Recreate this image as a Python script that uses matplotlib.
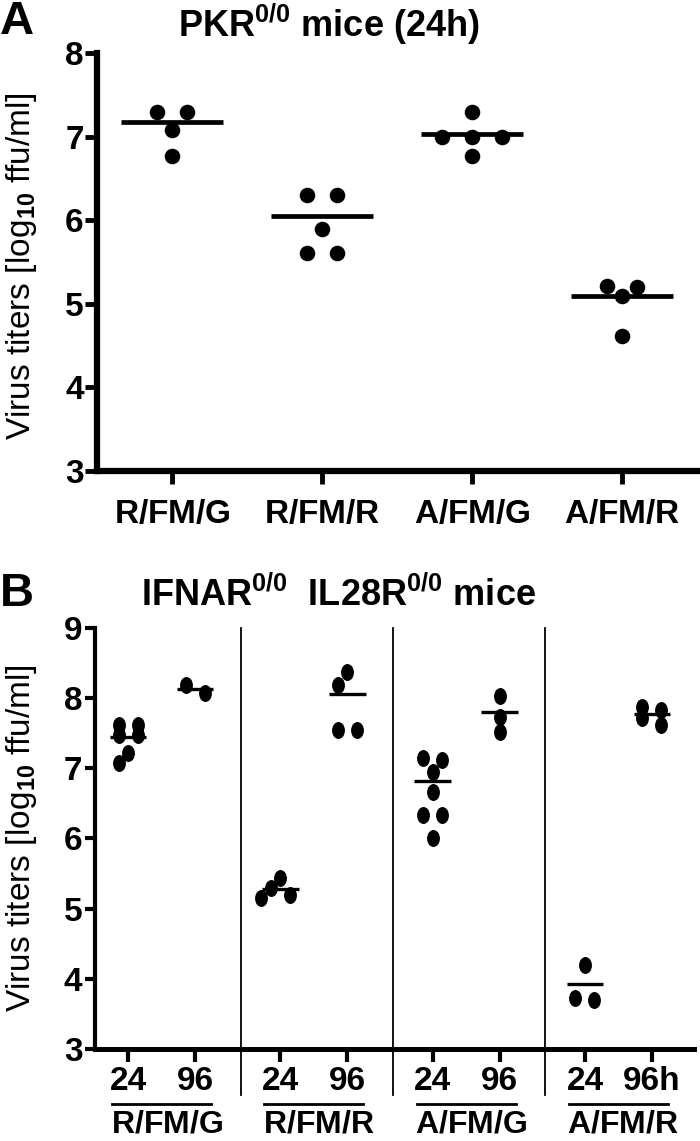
"""Virus titers in knockout mice: PKR 0/0 (A) and IFNAR/IL28R 0/0 (B) scatter panels."""

import matplotlib

matplotlib.use("Agg")
import matplotlib.pyplot as plt
import numpy as np
from matplotlib.markers import MarkerStyle
from matplotlib.path import Path
from matplotlib.transforms import Affine2D

plt.rcParams["font.family"] = ["Liberation Sans", "DejaVu Sans"]
plt.rcParams["font.weight"] = "bold"
plt.rcParams["mathtext.fontset"] = "custom"
plt.rcParams["mathtext.rm"] = "Liberation Sans"
plt.rcParams["mathtext.bf"] = "Liberation Sans:bold"
plt.rcParams["mathtext.it"] = "Liberation Sans:italic"

# ---- data: panel A (PKR 0/0 mice, 24 h) ----
A_LABELS = [
    r"$\mathbf{R/FM/G}$",
    r"$\mathbf{R/FM/}\mathrm{R}$",
    r"$\mathrm{A/}\mathbf{FM/G}$",
    r"$\mathrm{A/}\mathbf{FM/}\mathrm{R}$",
]
A_RFMG = [7.30, 7.30, 7.08, 6.77]
A_RFMR = [6.30, 6.30, 5.90, 5.61, 5.61]
A_AFMG = [7.30, 7.00, 7.00, 7.00, 6.77]
A_AFMR = [5.21, 5.20, 5.09, 4.62]
A_CENTER = [7.18, 6.05, 7.03, 5.09]

# ---- data: panel B (IFNAR 0/0 IL28R 0/0 mice, 24 h and 96 h) ----
B_GROUPS = [
    r"$\mathbf{R/FM/G}$",
    r"$\mathbf{R/FM/}\mathrm{R}$",
    r"$\mathrm{A/}\mathbf{FM/G}$",
    r"$\mathrm{A/}\mathbf{FM/}\mathrm{R}$",
]
B_TIME_LABELS = ["24", "96", "24", "96", "24", "96", "24", "96h"]
B_RFMG_24 = [7.62, 7.62, 7.47, 7.47, 7.21, 7.08]
B_RFMG_96 = [8.18, 8.07]
B_RFMR_24 = [5.43, 5.29, 5.20, 5.15]
B_RFMR_96 = [8.37, 8.18, 7.54, 7.54]
B_AFMG_24 = [7.14, 7.11, 6.95, 6.66, 6.33, 6.33, 6.00]
B_AFMG_96 = [8.03, 7.73, 7.52]
B_AFMR_24 = [4.19, 3.72, 3.70]
B_AFMR_96 = [7.87, 7.83, 7.71, 7.61]
B_CENTER = [7.45, 8.13, 5.28, 8.06, 6.81, 7.80, 3.92, 7.77]

FIG_W, FIG_H, DPI = 7.0, 11.41, 100
YLABEL = r"Virus titers [log$_{10}$ ffu/ml]"
B_TIME_OFFSET = 0.44
TEXT_SIZE = 24
GROUP_SIZE = 23
TITLE_SIZE = 26
PANEL_SIZE = 34


def spread(values, px_x, px_y, dot_w, dot_h, spacing, overlap=0.85):
    """Scatter-dot layout: close values share a row, rows are centred."""
    values = np.asarray(values, dtype=float)
    order = np.argsort(-values, kind="stable")
    rows = []
    for idx in order:
        if rows and (values[rows[-1][0]] - values[idx]) * px_y <= dot_h * 0.5:
            rows[-1].append(idx)
        else:
            rows.append([idx])
    offsets = np.zeros(len(values))
    placed = []
    half = spacing / 2
    shifts = [0.0]
    for k in range(1, 6):
        shifts += [-k * half, k * half]
    for row in rows:
        base = (np.arange(len(row)) - (len(row) - 1) / 2) * spacing
        chosen = 0.0
        if len(row) == 1:
            y = values[row[0]] * px_y
            for s in shifts:
                if all(
                    ((s - px) / dot_w) ** 2 + ((y - py) / dot_h) ** 2 >= overlap**2
                    for px, py in placed
                ):
                    chosen = s
                    break
        for i, idx in zip(base + chosen, row):
            offsets[idx] = i
            placed.append((i, values[idx] * px_y))
    return offsets / px_x


def px_scale(ax):
    pos = ax.get_position()
    x0, x1 = ax.get_xlim()
    y0, y1 = ax.get_ylim()
    return (
        pos.width * FIG_W * DPI / (x1 - x0),
        pos.height * FIG_H * DPI / (y1 - y0),
    )


fig = plt.figure(figsize=(FIG_W, FIG_H), dpi=DPI)

# ================= panel A =================
axA = fig.add_axes([97 / 700, 1 - 471 / 1141, 600 / 700, (471 - 53.3) / 1141])
axA.set_xlim(-0.5, 3.5)
axA.set_ylim(3, 8)
px_x, px_y = px_scale(axA)
dotA = MarkerStyle("o")
for i, vals in enumerate([A_RFMG, A_RFMR, A_AFMG, A_AFMR]):
    dx = spread(vals, px_x, px_y, 15.5, 15.5, 30)
    axA.plot(
        i + dx, vals, linestyle="none", marker=dotA, markersize=11.2,
        color="black", markeredgewidth=0, clip_on=False, zorder=3,
    )
    axA.hlines(A_CENTER[i], i - 0.34, i + 0.34, color="black", linewidth=3.4, zorder=4)

axA.spines["top"].set_visible(False)
axA.spines["right"].set_visible(False)
for side in ("left", "bottom"):
    axA.spines[side].set_linewidth(4.5)
    axA.spines[side].set_capstyle("projecting")
axA.set_yticks([3, 4, 5, 6, 7, 8])
axA.set_xticks(range(4))
axA.set_xticklabels(A_LABELS)
axA.tick_params(axis="y", length=8.6, width=3.5, labelsize=TEXT_SIZE, pad=1)
axA.tick_params(axis="x", length=9.5, width=3.5, labelsize=TEXT_SIZE, pad=11)
axA.set_ylabel(YLABEL, fontsize=TEXT_SIZE, fontweight="normal", va="center")
axA.yaxis.set_label_coords(-0.125, 0.49)
fig.text(329 / 700, 1 - 24 / 1141, r"PKR$^{\mathbf{0/0}}$ mice (24h)",
         ha="center", va="center", fontsize=TITLE_SIZE, fontweight="bold")
fig.text(0, 1 - 22 / 1141, "A", ha="left", va="center",
         fontsize=PANEL_SIZE, fontweight="bold")

# ================= panel B =================
axB = fig.add_axes([95 / 700, 1 - 1049 / 1141, 599 / 700, (1049 - 627.7) / 1141])
axB.set_xlim(-0.217, 3.716)
axB.set_ylim(3, 9)
px_x, px_y = px_scale(axB)
ellipse = Path.unit_circle().transformed(Affine2D().scale(0.76, 1.0))
dotB = MarkerStyle(ellipse)
b_series = [
    B_RFMG_24, B_RFMG_96, B_RFMR_24, B_RFMR_96,
    B_AFMG_24, B_AFMG_96, B_AFMR_24, B_AFMR_96,
]
b_pos = []
for k, vals in enumerate(b_series):
    x = k // 2 + (k % 2) * B_TIME_OFFSET
    b_pos.append(x)
    dx = spread(vals, px_x, px_y, 13, 17, 19)
    axB.plot(
        x + dx, vals, linestyle="none", marker=dotB, markersize=12.2,
        color="black", markeredgewidth=0, clip_on=False, zorder=3,
    )
    axB.hlines(B_CENTER[k], x - 0.12, x + 0.12, color="black", linewidth=2.4, zorder=4)

for g in range(1, 4):
    sep = g - 0.26
    axB.plot([sep, sep], [9, 2.345], color="black", linewidth=1.3, clip_on=False)

for g, name in enumerate(B_GROUPS):
    mid = g + B_TIME_OFFSET / 2
    axB.plot([mid - 0.325, mid + 0.325], [2.215, 2.215], color="black",
             linewidth=2.0, clip_on=False)
    axB.text(mid - 0.335, 1.92, name, ha="left", va="center", fontsize=GROUP_SIZE)

axB.spines["top"].set_visible(False)
axB.spines["right"].set_visible(False)
axB.spines["left"].set_linewidth(3.0)
axB.spines["bottom"].set_linewidth(3.6)
axB.set_yticks([3, 4, 5, 6, 7, 8, 9])
axB.set_xticks(b_pos)
axB.set_xticklabels(B_TIME_LABELS)
axB.tick_params(axis="y", length=7, width=3.0, labelsize=TEXT_SIZE, pad=2)
axB.tick_params(axis="x", length=9, width=3.0, labelsize=TEXT_SIZE, pad=3)
axB.set_ylabel(YLABEL, fontsize=TEXT_SIZE, fontweight="normal", va="center")
axB.yaxis.set_label_coords(-0.122, 0.5)
fig.text(338 / 700, 1 - 595 / 1141,
         r"IFNAR$^{\mathbf{0/0}}$  IL28R$^{\mathbf{0/0}}$ mice",
         ha="center", va="center", fontsize=TITLE_SIZE, fontweight="bold")
fig.text(0, 1 - 594 / 1141, "B", ha="left", va="center",
         fontsize=PANEL_SIZE, fontweight="bold")

fig.savefig("out.png", dpi=DPI)
